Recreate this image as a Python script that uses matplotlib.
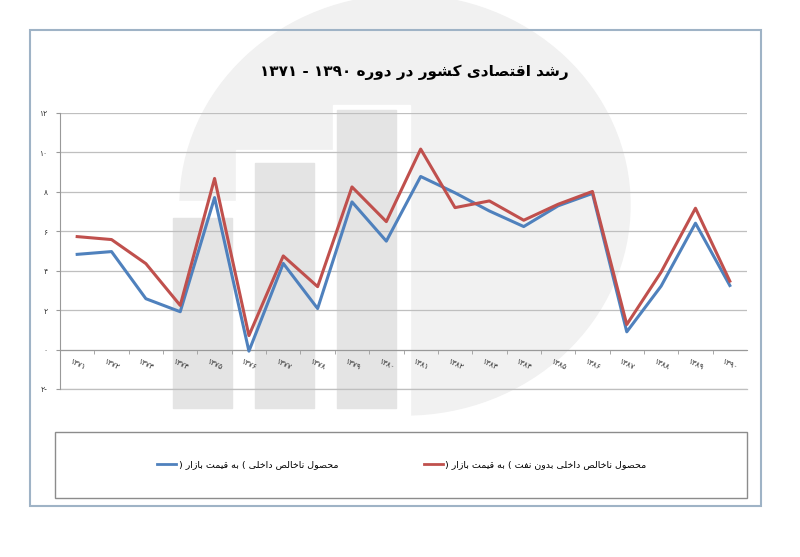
import re
import matplotlib
matplotlib.use("Agg")
import matplotlib.pyplot as plt
from matplotlib.patches import Rectangle, Ellipse, Polygon
from matplotlib.lines import Line2D

years = list(range(1371, 1391))
gdp = [4.83, 4.97, 2.58, 1.92, 7.71, -0.08, 4.37, 2.08, 7.49, 5.50,
       8.78, 7.95, 7.03, 6.24, 7.29, 7.92, 0.90, 3.22, 6.41, 3.25]
gdp_non_oil = [5.73, 5.58, 4.36, 2.24, 8.68, 0.71, 4.75, 3.19, 8.25, 6.49,
               10.17, 7.20, 7.54, 6.56, 7.37, 8.02, 1.27, 3.93, 7.17, 3.47]
y_ticks = [-2, 0, 2, 4, 6, 8, 10, 12]

title = "رشد اقتصادی کشور در دوره ۱۳۹۰ - ۱۳۷۱"
label_gdp = "محصول ناخالص داخلی ( به قیمت بازار )"
label_non_oil = "محصول ناخالص داخلی بدون نفت ( به قیمت بازار )"

# matplotlib has no arabic shaping, so pick presentation forms by hand
FORMS = {
    "ا": ("\uFE8D", "\uFE8E"),
    "د": ("\uFEA9", "\uFEAA"),
    "ر": ("\uFEAD", "\uFEAE"),
    "ز": ("\uFEAF", "\uFEB0"),
    "و": ("\uFEED", "\uFEEE"),
    "ب": ("\uFE8F", "\uFE90", "\uFE91", "\uFE92"),
    "ت": ("\uFE95", "\uFE96", "\uFE97", "\uFE98"),
    "ح": ("\uFEA1", "\uFEA2", "\uFEA3", "\uFEA4"),
    "خ": ("\uFEA5", "\uFEA6", "\uFEA7", "\uFEA8"),
    "ش": ("\uFEB5", "\uFEB6", "\uFEB7", "\uFEB8"),
    "ص": ("\uFEB9", "\uFEBA", "\uFEBB", "\uFEBC"),
    "ف": ("\uFED1", "\uFED2", "\uFED3", "\uFED4"),
    "ق": ("\uFED5", "\uFED6", "\uFED7", "\uFED8"),
    "ک": ("\uFB8E", "\uFB8F", "\uFB90", "\uFB91"),
    "ل": ("\uFEDD", "\uFEDE", "\uFEDF", "\uFEE0"),
    "م": ("\uFEE1", "\uFEE2", "\uFEE3", "\uFEE4"),
    "ن": ("\uFEE5", "\uFEE6", "\uFEE7", "\uFEE8"),
    "ه": ("\uFEE9", "\uFEEA", "\uFEEB", "\uFEEC"),
    "ی": ("\uFBFC", "\uFBFD", "\uFBFE", "\uFBFF"),
}
DIGITS = "۰۱۲۳۴۵۶۷۸۹"


def shape(text):
    out = []
    for i, ch in enumerate(text):
        f = FORMS.get(ch)
        if f is None:
            out.append(ch)
            continue
        prev = text[i - 1] if i > 0 else ""
        nxt = text[i + 1] if i + 1 < len(text) else ""
        joins_prev = prev in FORMS and len(FORMS[prev]) == 4
        joins_next = len(f) == 4 and nxt in FORMS
        if joins_prev and joins_next:
            out.append(f[3])
        elif joins_prev:
            out.append(f[1])
        elif joins_next:
            out.append(f[2])
        else:
            out.append(f[0])
    return "".join(out)


def farsi(text):
    parts = re.findall("[" + DIGITS + "]+|[^" + DIGITS + "]+", shape(text))
    return "".join(p if p[0] in DIGITS else p[::-1] for p in reversed(parts))


def fa_num(n):
    s = str(abs(n)).translate(str.maketrans("0123456789", DIGITS))
    return s + "-" if n < 0 else s


W, H = 800, 557


def box(x0, y0, x1, y1, **kw):
    return Rectangle((x0 / W, 1 - y1 / H), (x1 - x0) / W, (y1 - y0) / H,
                     transform=fig.transFigure, **kw)


fig = plt.figure(figsize=(8, 5.57), dpi=100)
fig.patch.set_facecolor("white")

# faint watermark logo behind the chart
fig.patches.append(Ellipse((405 / W, 1 - 205 / H), 450 / W, 420 / H,
                           transform=fig.transFigure, color="#f1f1f1", zorder=0))
cut = [(170, 201), (236, 201), (236, 150), (333, 150), (333, 105),
       (410, 105), (410, 480), (170, 480)]
fig.patches.append(Polygon([(x / W, 1 - y / H) for x, y in cut], closed=True,
                           transform=fig.transFigure, color="white", zorder=0.1))
for x0, y0 in [(173, 218), (255, 163), (337, 110)]:
    fig.patches.append(box(x0, y0, x0 + 59, 408, color="#e4e4e4", zorder=0.2))

# outer frame and legend frame
fig.patches.append(box(30, 30, 761, 506, fill=False, edgecolor="#9fb3c6", lw=1.5, zorder=3))
fig.patches.append(box(55, 432, 747, 498, fill=False, edgecolor="#8c8c8c", lw=1, zorder=3))

ax = fig.add_axes([60 / W, 1 - 389 / H, 687 / W, 276 / H])
ax.set_zorder(1)
ax.set_facecolor("none")
for side in ["top", "right"]:
    ax.spines[side].set_visible(False)
ax.spines["bottom"].set_position(("data", 0))
ax.spines["bottom"].set_color("#999999")
ax.spines["left"].set_color("#999999")

x = list(range(len(years)))
ax.plot(x, gdp, color="#4f81bd", lw=2.2, zorder=3)
ax.plot(x, gdp_non_oil, color="#c0504d", lw=2.2, zorder=3)

ax.set_xlim(-0.5, len(years) - 0.5)
ax.set_ylim(-2, 12)
ax.set_yticks(y_ticks)
ax.set_yticklabels([fa_num(v) for v in y_ticks], fontsize=5.5, color="#333333")
ax.set_xticks(x)
ax.set_xticklabels([fa_num(y) for y in years], fontsize=5.5, rotation=-25, color="#333333")
ax.set_xticks([i + 0.5 for i in x[:-1]], minor=True)
ax.tick_params(axis="x", which="major", length=0, pad=5)
ax.tick_params(axis="x", which="minor", length=3, color="#999999")
ax.tick_params(axis="y", length=3, color="#999999", pad=6)
ax.grid(axis="y", color="#bfbfbf", lw=0.9)
ax.axhline(-2, color="#bfbfbf", lw=0.9, clip_on=False)
ax.set_axisbelow(True)

fig.text(414 / W, 1 - 72 / H, farsi(title), ha="center", va="center",
         fontsize=11, fontweight="bold")

handles = [Line2D([], [], color="#4f81bd", lw=2), Line2D([], [], color="#c0504d", lw=2)]
fig.legend(handles, [farsi(label_gdp), farsi(label_non_oil)], loc="center",
           bbox_to_anchor=(402 / W, 1 - 465 / H), ncol=2, frameon=False,
           fontsize=6.8, handlelength=2.0, handletextpad=0.3, columnspacing=9)

fig.savefig("out.png", dpi=100)
